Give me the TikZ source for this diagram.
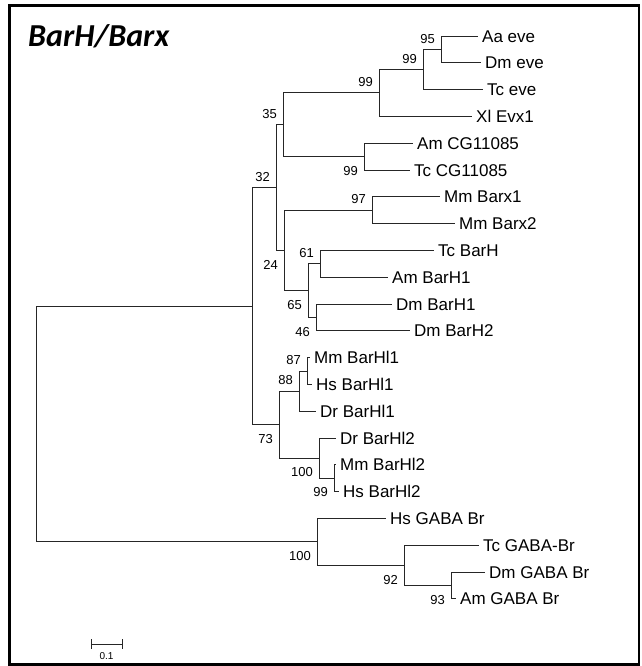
\documentclass[tikz,border=0pt]{standalone}
\usepackage{fontspec}
\setmainfont{Liberation Sans}
\newfontfamily\titlefont{Carlito}

\tikzset{
  branch/.style={draw=black!85, line width=0.9pt},
  leaf/.style={anchor=west, inner xsep=4pt, inner ysep=0pt, text height=12.2pt,
    text depth=0pt, font=\fontsize{17}{20}\selectfont},
  boot/.style={inner sep=0pt, font=\fontsize{13}{15}\selectfont},
  bsup/.style={boot, anchor=south east, xshift=-6pt, yshift=6pt},
  bsdn/.style={boot, anchor=north east, xshift=-6pt, yshift=-9.5pt}
}

\begin{document}
\begin{tikzpicture}[x=1pt, y=-1pt]
\useasboundingbox (0,0) rectangle (641,666);
% frame and title
\draw[line width=2.1pt] (9.5,5.5) rectangle (639,664.5);
\node[anchor=base west, inner sep=0pt,
  font=\titlefont\bfseries\itshape\fontsize{32}{36}\selectfont] (title) at (28,47) {BarH/Barx};
% the tree: x in pt, y in leaf rows
\begin{scope}[yshift=-36pt, y=-26.8pt]
\foreach \n/\t/\x/\r in {
  aa/Aa eve/478/0, dme/Dm eve/481/1, tce/Tc eve/483/2, xl/Xl Evx1/472/3,
  amcg/Am CG11085/413/4, tccg/Tc CG11085/410/5,
  mmx1/Mm Barx1/440/6, mmx2/Mm Barx2/455/7,
  tch/Tc BarH/434/8, amh1/Am BarH1/388/9, dmh1/Dm BarH1/392/10, dmh2/Dm BarH2/410/11,
  mml1/Mm BarHl1/310/12, hsl1/Hs BarHl1/312/13, drl1/Dr BarHl1/316/14,
  drl2/Dr BarHl2/336/15, mml2/Mm BarHl2/336/16, hsl2/Hs BarHl2/339/17,
  hsg/Hs GABA Br/386/18, tcg/Tc GABA-Br/479/19, dmg/Dm GABA Br/485/20, amg/Am GABA Br/456/21} {
  \node[leaf] (\n) at (\x,\r) {\t};
}
% inner nodes, each halfway between its two children
\foreach \n/\x/\r in {
  n95/441/0.5, n99a/423/1.25, n99b/379/2.125, ncg/364/4.5, n35/283/3.3125,
  n97/372/6.5, n61/320/8.5, n46/316/10.5, n65/308/9.5, n24/284/8, n32/276/5.65625,
  n87/307/12.5, n88/299/13.25, n99c/334/16.5, n100a/319/15.75, n73/279/14.5,
  nbar/252/10.078, n93/451/20.5, n92/404/19.75, n100b/317/18.875, root/36/14.477} {
  \coordinate (\n) at (\x,\r);
}
\foreach \p/\c in {
  n95/aa, n95/dme, n99a/n95, n99a/tce, n99b/n99a, n99b/xl,
  ncg/amcg, ncg/tccg, n35/n99b, n35/ncg,
  n97/mmx1, n97/mmx2, n61/tch, n61/amh1, n46/dmh1, n46/dmh2,
  n65/n61, n65/n46, n24/n97, n24/n65, n32/n35, n32/n24,
  n87/mml1, n87/hsl1, n88/n87, n88/drl1, n99c/mml2, n99c/hsl2,
  n100a/drl2, n100a/n99c, n73/n88, n73/n100a, nbar/n32, nbar/n73,
  n93/dmg, n93/amg, n92/tcg, n92/n93, n100b/hsg, n100b/n92,
  root/nbar, root/n100b} {
  \draw[branch] (\p) |- (\c);
}
% bootstrap values
\foreach \p/\s/\v in {
  n95/bsup/95, n99a/bsup/99, n99b/bsup/99, n35/bsup/35, ncg/bsdn/99,
  n32/bsup/32, n97/bsup/97, n24/bsdn/24, n61/bsup/61, n65/bsdn/65, n46/bsdn/46,
  n87/bsup/87, n88/bsup/88, n73/bsdn/73, n100a/bsdn/100, n99c/bsdn/99,
  n100b/bsdn/100, n92/bsdn/92, n93/bsdn/93} {
  \node[\s] (b\p) at (\p) {\v};
}
\end{scope}
% scale bar
\draw[branch] (91,639) -- (91,649) (91,644) -- (122,644) (122,639) -- (122,649);
\node[boot, font=\fontsize{10}{12}\selectfont, anchor=north] (sbar) at (106.5,652) {0.1};
\end{tikzpicture}
\end{document}
